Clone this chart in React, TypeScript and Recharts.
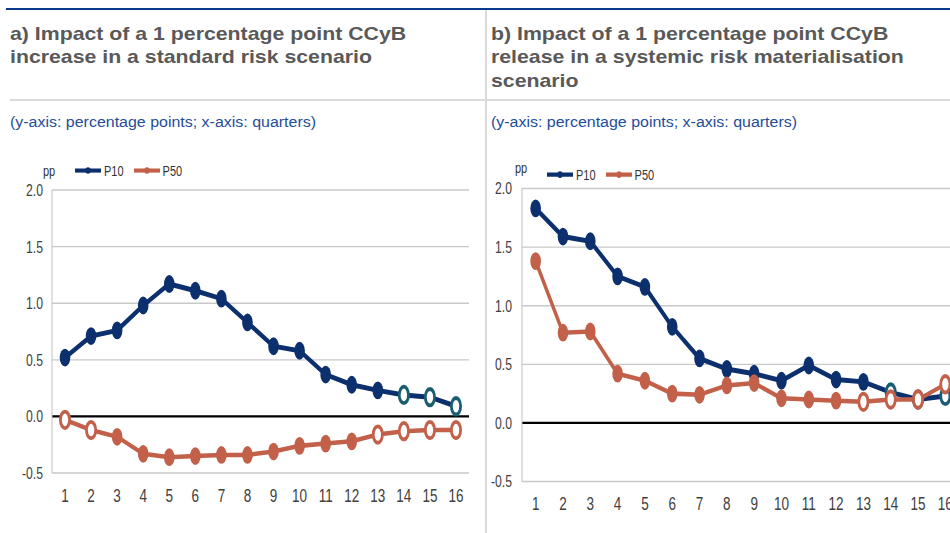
import React from 'react';
import { LineChart, Line, XAxis, YAxis, CartesianGrid, ReferenceLine, Legend } from 'recharts';

// ---------- data ----------
const quarters = [1, 2, 3, 4, 5, 6, 7, 8, 9, 10, 11, 12, 13, 14, 15, 16];
const yTicks = [-0.5, 0, 0.5, 1.0, 1.5, 2.0];
const seriesNames = ['P10', 'P50'];

const leftP10 = [0.52, 0.71, 0.76, 0.98, 1.17, 1.11, 1.04, 0.83, 0.62, 0.58, 0.37, 0.28, 0.23, 0.19, 0.17, 0.09];
const leftP50 = [-0.03, -0.12, -0.18, -0.33, -0.36, -0.35, -0.34, -0.34, -0.31, -0.26, -0.24, -0.22, -0.16, -0.13, -0.12, -0.12];
const leftP10Hollow = [14, 15, 16];
const leftP50Hollow = [1, 2, 13, 14, 15, 16];

const rightP10 = [1.83, 1.59, 1.55, 1.25, 1.16, 0.82, 0.55, 0.46, 0.42, 0.36, 0.49, 0.37, 0.35, 0.26, 0.2, 0.23];
const rightP50 = [1.38, 0.77, 0.78, 0.42, 0.36, 0.25, 0.24, 0.32, 0.34, 0.21, 0.2, 0.19, 0.18, 0.2, 0.2, 0.33];
const rightP10Hollow = [14, 15, 16];
const rightP50Hollow = [13, 14, 15, 16];

const titleA = ['a) Impact of a 1 percentage point CCyB', 'increase in a standard risk scenario'];
const titleB = ['b) Impact of a 1 percentage point CCyB', 'release in a systemic risk materialisation', 'scenario'];
const subtitle = '(y-axis: percentage points; x-axis: quarters)';
const unitLabel = 'pp';

// ---------- styles ----------
const FONT = '"Liberation Sans", Arial, Helvetica, sans-serif';
const NAVY = '#0c2f6e';
const ORANGE = '#c2604a';
const TEAL = '#1b5e72';
const SCALE_Y = 1.37;

const buildRows = (p10: number[], p50: number[]) =>
  quarters.map((q, i) => ({ q, p10: p10[i], p50: p50[i] }));

const makeDot = (color: string, hollowColor: string, hollow: number[]) => (props: any) => {
  const { cx, cy, payload, index } = props;
  if (cx == null || cy == null) return <g key={`e${index}`} />;
  if (hollow.includes(payload.q)) {
    return (
      <ellipse key={`d${index}`} cx={cx} cy={cy} rx={4.6} ry={6.0} fill="#ffffff" stroke={hollowColor} strokeWidth={2.8} />
    );
  }
  return <ellipse key={`d${index}`} cx={cx} cy={cy} rx={5.3} ry={6.5} fill={color} />;
};

const makeLegend = (ppLift: number) => (props: any) => {
  const payload = props.payload || [];
  return (
    <div
      style={{
        display: 'flex',
        alignItems: 'center',
        height: 12,
        fontFamily: FONT,
        fontSize: 11,
        color: '#333333',
        whiteSpace: 'nowrap',
      }}
    >
      <span style={{ width: 12, position: 'relative', top: -ppLift, marginRight: 20 }}>{unitLabel}</span>
      {payload.map((e: any, i: number) => (
        <span key={i} style={{ display: 'flex', alignItems: 'center', marginRight: 10 }}>
          <svg width={26} height={8} style={{ display: 'block' }}>
            <line x1={0} y1={4} x2={26} y2={4} stroke={e.color} strokeWidth={3} />
            <ellipse cx={13} cy={4} rx={2.6} ry={2.4} fill={e.color} />
          </svg>
          <span style={{ marginLeft: 3 }}>{e.value}</span>
        </span>
      ))}
    </div>
  );
};

type PanelProps = {
  rows: any[];
  p10Hollow: number[];
  p50Hollow: number[];
  yAxisWidth: number;
  marginTop: number;
  marginRight: number;
  marginBottom: number;
  yTickMargin: number;
  xPad: number;
  legendLeft: number;
  legendTop: number;
  ppLift: number;
  p10HollowColor: string;
};

const Panel = (p: PanelProps) => (
  <LineChart
    width={480}
    height={280}
    data={p.rows}
    margin={{ top: p.marginTop, right: p.marginRight, bottom: p.marginBottom, left: 0 }}
  >
    <CartesianGrid vertical={false} stroke="#c9c9c9" strokeWidth={1} />
    <XAxis
      dataKey="q"
      type="category"
      interval={0}
      axisLine={false}
      tickLine={false}
      tickSize={0}
      tickMargin={11.5}
      height={30}
      padding={{ left: p.xPad, right: p.xPad }}
      tick={{ fontSize: 13.5, fill: '#404040', fontFamily: FONT }}
    />
    <YAxis
      type="number"
      domain={[-0.5, 2]}
      ticks={yTicks}
      width={p.yAxisWidth}
      axisLine={{ stroke: '#bfbfbf', strokeWidth: 1 }}
      tickLine={false}
      tickSize={0}
      tickMargin={p.yTickMargin}
      tickFormatter={(v: number) => v.toFixed(1)}
      tick={{ fontSize: 12.2, fill: '#404040', fontFamily: FONT }}
    />
    <ReferenceLine y={0} stroke="#000000" strokeWidth={1.7} />
    <Legend
      layout="horizontal"
      verticalAlign="middle"
      align="center"
      width={260}
      wrapperStyle={{ left: p.legendLeft, top: p.legendTop }}
      content={makeLegend(p.ppLift)}
    />
    <Line
      name={seriesNames[0]}
      dataKey="p10"
      stroke={NAVY}
      strokeWidth={3.6}
      dot={makeDot(NAVY, p.p10HollowColor, p.p10Hollow)}
      activeDot={false}
      isAnimationActive={false}
    />
    <Line
      name={seriesNames[1]}
      dataKey="p50"
      stroke={ORANGE}
      strokeWidth={3.3}
      dot={makeDot(ORANGE, ORANGE, p.p50Hollow)}
      activeDot={false}
      isAnimationActive={false}
    />
  </LineChart>
);

const titleStyle = (left: number): React.CSSProperties => ({
  position: 'absolute',
  left,
  top: 22,
  fontFamily: FONT,
  fontWeight: 'bold',
  fontSize: 19,
  lineHeight: '23.3px',
  color: '#595959',
  whiteSpace: 'nowrap',
  transform: 'scaleX(1.12)',
  transformOrigin: '0 0',
});

const subStyle = (left: number): React.CSSProperties => ({
  position: 'absolute',
  left,
  top: 113.5,
  fontFamily: FONT,
  fontSize: 14,
  lineHeight: '16px',
  color: '#1f4d9b',
  whiteSpace: 'nowrap',
  transform: 'scaleX(1.14)',
  transformOrigin: '0 0',
});

export default function App() {
  const leftRows = buildRows(leftP10, leftP50);
  const rightRows = buildRows(rightP10, rightP50);
  return (
    <div
      style={{
        position: 'absolute',
        left: 0,
        top: 0,
        width: 950,
        height: 533,
        overflow: 'hidden',
        background: '#ffffff',
        fontFamily: FONT,
      }}
    >
      <div style={{ position: 'absolute', left: 6, top: 7.5, width: 944, height: 2, background: '#0b3a8c' }} />
      <div style={{ position: 'absolute', left: 485, top: 10, width: 2, height: 523, background: '#dadada' }} />
      <div style={{ position: 'absolute', left: 10, top: 98.5, width: 940, height: 2, background: '#dadada' }} />

      <div style={titleStyle(10)}>
        {titleA.map((t, i) => (
          <div key={i}>{t}</div>
        ))}
      </div>
      <div style={titleStyle(491)}>
        {titleB.map((t, i) => (
          <div key={i}>{t}</div>
        ))}
      </div>
      <div style={subStyle(10)}>{subtitle}</div>
      <div style={subStyle(491)}>{subtitle}</div>

      <div
        style={{
          position: 'absolute',
          left: 0,
          top: 150,
          width: 480,
          height: 280,
          transform: `scaleY(${SCALE_Y})`,
          transformOrigin: '0 0',
        }}
      >
        <Panel
          rows={leftRows}
          p10Hollow={leftP10Hollow}
          p50Hollow={leftP50Hollow}
          yAxisWidth={52}
          marginTop={29.2}
          marginRight={11}
          marginBottom={14.2}
          yTickMargin={9}
          xPad={13}
          legendLeft={43}
          legendTop={8.6}
          ppLift={0}
          p10HollowColor={TEAL}
        />
      </div>

      <div
        style={{
          position: 'absolute',
          left: 486,
          top: 150,
          width: 480,
          height: 280,
          transform: `scaleY(${SCALE_Y})`,
          transformOrigin: '0 0',
        }}
      >
        <Panel
          rows={rightRows}
          p10Hollow={rightP10Hollow}
          p50Hollow={rightP50Hollow}
          yAxisWidth={36}
          marginTop={28.1}
          marginRight={7}
          marginBottom={8}
          yTickMargin={10}
          xPad={13.65}
          legendLeft={29}
          legendTop={12.2}
          ppLift={5}
          p10HollowColor={TEAL}
        />
      </div>
    </div>
  );
}
